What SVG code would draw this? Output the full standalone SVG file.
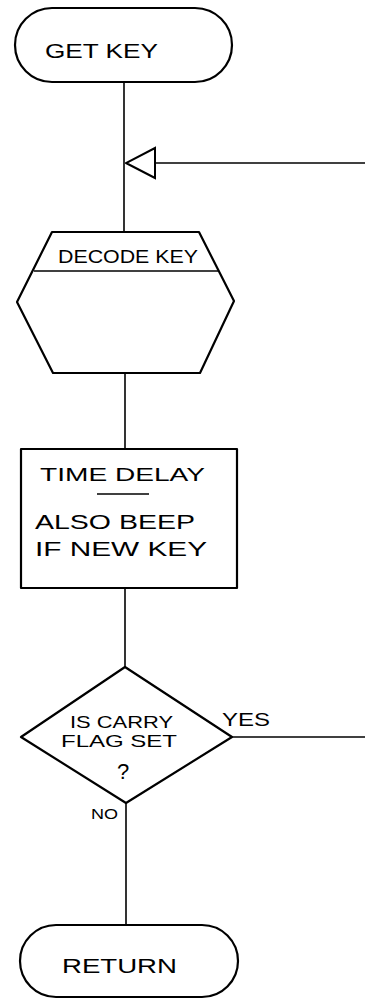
<svg xmlns="http://www.w3.org/2000/svg" width="365" height="999" viewBox="0 0 365 999">
<defs>
<style>
.s{fill:#fff;stroke:#000;stroke-width:2.2;stroke-linejoin:round}
.c{fill:none;stroke:#000;stroke-width:1.6}
.t{font-family:"Liberation Sans",Arial,sans-serif;font-size:19px;fill:#000}
.m{text-anchor:middle}
</style>
<marker id="tri" markerUnits="userSpaceOnUse" markerWidth="32" markerHeight="34" refX="31" refY="17" orient="auto" viewBox="0 0 32 34">
<path d="M31,17 L2,2 L2,32 Z" fill="#fff" stroke="#000" stroke-width="2"/>
</marker>
</defs>
<rect width="365" height="999" fill="#fff"/>
<g id="connectors">
<line class="c" x1="124" y1="82" x2="124" y2="232"/>
<line class="c" x1="365" y1="163" x2="126" y2="163" marker-end="url(#tri)"/>
<line class="c" x1="125" y1="373" x2="125" y2="449"/>
<line class="c" x1="125" y1="588" x2="125" y2="667"/>
<line class="c" x1="232" y1="737" x2="365" y2="737"/>
<line class="c" x1="126" y1="803" x2="126" y2="925"/>
<text class="t" x="222" y="726" style="font-size:18px" textLength="48" lengthAdjust="spacingAndGlyphs">YES</text>
<text class="t" x="91" y="819" style="font-size:14px" textLength="27" lengthAdjust="spacingAndGlyphs">NO</text>
</g>
<g id="getkey">
<rect class="s" x="15" y="8" width="217" height="74" rx="37" ry="37"/>
<text class="t" x="45" y="58" style="font-size:21px" textLength="113" lengthAdjust="spacingAndGlyphs">GET KEY</text>
</g>
<g id="decode">
<polygon class="s" points="52,232 199,232 234,301 200,373 53,373 17,302"/>
<line class="c" x1="34" y1="271" x2="219" y2="271"/>
<text class="t" x="58" y="263" textLength="140" lengthAdjust="spacingAndGlyphs">DECODE KEY</text>
</g>
<g id="timedelay">
<rect class="s" x="21" y="449" width="216" height="139"/>
<text class="t" x="40" y="481" textLength="165" lengthAdjust="spacingAndGlyphs">TIME DELAY</text>
<line class="c" x1="97" y1="494" x2="149" y2="494"/>
<text class="t" x="35" y="529" style="font-size:20px" textLength="160" lengthAdjust="spacingAndGlyphs">ALSO BEEP</text>
<text class="t" x="35" y="556" style="font-size:20px" textLength="172" lengthAdjust="spacingAndGlyphs">IF NEW KEY</text>
</g>
<g id="carry">
<polygon class="s" points="125,667 232,737 126,803 21,737"/>
<text class="t" x="70" y="728" style="font-size:17px" textLength="103" lengthAdjust="spacingAndGlyphs">IS CARRY</text>
<text class="t" x="61" y="747" style="font-size:17px" textLength="116" lengthAdjust="spacingAndGlyphs">FLAG SET</text>
<text class="t m" x="123" y="779" style="font-size:22px">?</text>
</g>
<g id="return">
<rect class="s" x="20" y="925" width="218" height="72" rx="36" ry="36"/>
<text class="t" x="62" y="973" style="font-size:20px" textLength="115" lengthAdjust="spacingAndGlyphs">RETURN</text>
</g>
</svg>
